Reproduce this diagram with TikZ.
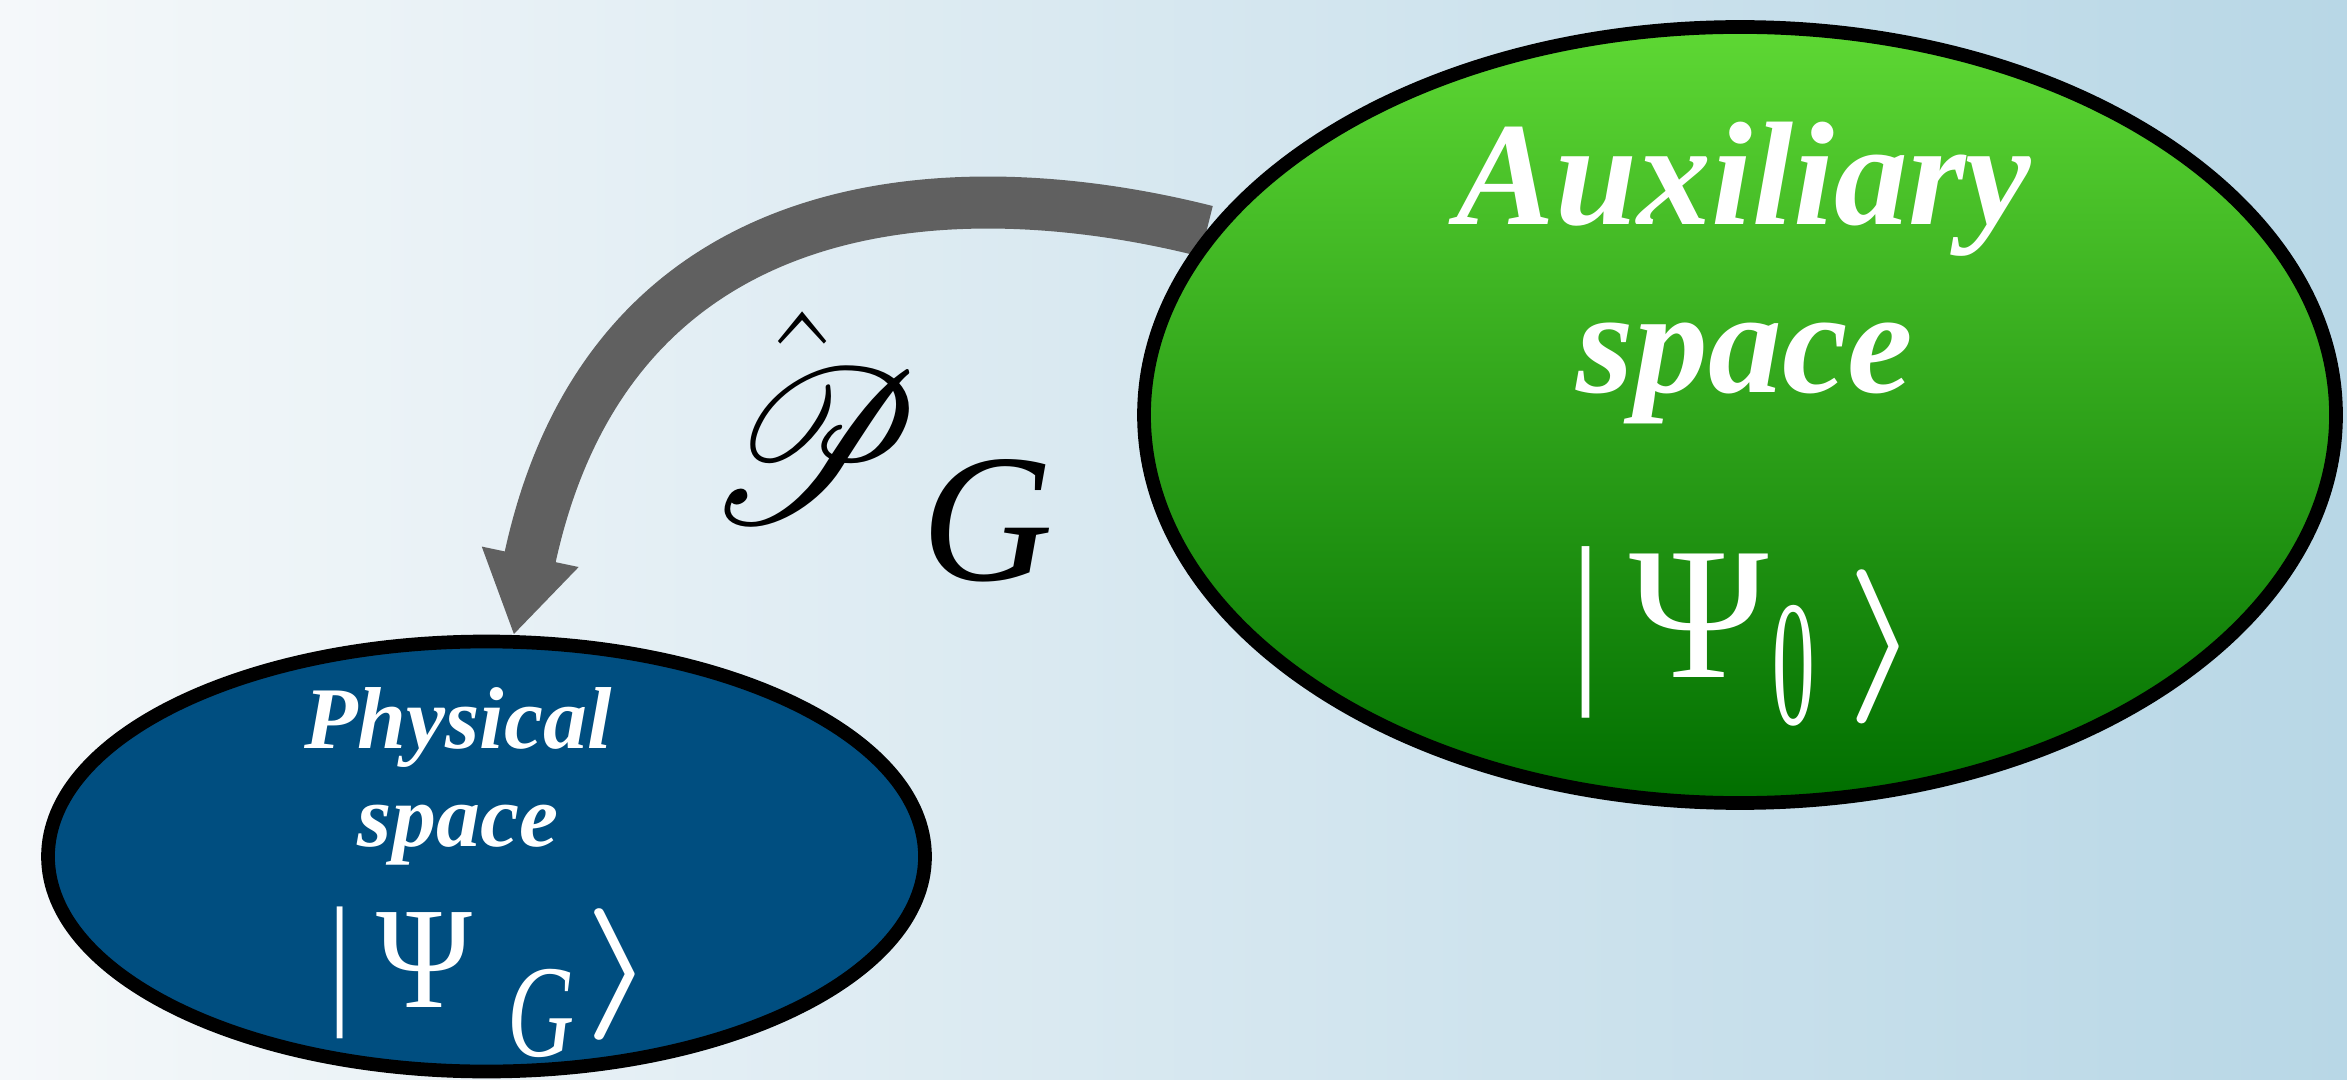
\RequirePackage{fix-cm}
\documentclass[tikz,border=0pt]{standalone}
\usepackage{fontspec}
\setmainfont{Liberation Serif}[
    ItalicFont={Liberation Serif Italic},
    BoldFont={Liberation Serif Bold},
    BoldItalicFont={Liberation Serif Bold Italic}]
\usepackage{mathrsfs}
\usetikzlibrary{shapes.geometric,arrows.meta,backgrounds}

\definecolor{bgleft}{RGB}{245,248,250}
\definecolor{bgmid}{RGB}{226,238,243}
\definecolor{bgright}{RGB}{184,215,230}
\definecolor{auxtop}{RGB}{94,216,52}
\definecolor{auxbot}{RGB}{0,110,0}
\definecolor{physfill}{RGB}{0,78,128}
\definecolor{arrowgray}{RGB}{96,96,96}

\begin{document}
\begin{tikzpicture}[
    spacebox/.style={ellipse, draw=black, line width=3.9pt, inner sep=0pt},
    title/.style={text=white, font=\bfseries\itshape, anchor=base, inner sep=0pt},
    ket/.style={text=white, anchor=base, inner sep=0pt},
    arrow/.style={line width=14.8pt, draw=arrowgray, -{Triangle[width=0.93cm, length=0.8cm]}}
]
\useasboundingbox (0,0) rectangle (23.47,10.79);

% Spaces
\node (aux) [spacebox, minimum width=11.92cm, minimum height=7.76cm, top color=auxtop, bottom color=auxbot] at (17.40,6.64) {};
\node (phys) [spacebox, minimum width=8.77cm, minimum height=4.30cm, fill=physfill] at (4.865,2.225) {};

% Texts
\node (auxname) [title] at (17.44,8.54) {\fontsize{42}{42}\selectfont Auxiliary};
\node (auxspace) [title] at (17.45,6.87) {\fontsize{42}{42}\selectfont space};
\node (auxket) [ket] at (17.45,4.02) {\scalebox{1}[1.22]{\fontsize{44}{44}\selectfont |\hspace{8pt}\scalebox{1.22}[1]{Ψ}\hspace{1pt}\raisebox{-0.25em}{\scalebox{0.55}[0.95]{0}}\hspace{9pt}\raisebox{-2pt}{\scalebox{1.3}[1]{\fontsize{36}{36}\selectfont\boldmath$\rangle$}}}};

\node (physname) [title] at (4.58,3.31) {\fontsize{25}{25}\selectfont Physical};
\node (physspace) [title] at (4.58,2.33) {\fontsize{25}{25}\selectfont space};
\node (physket) [ket] at (4.92,0.72) {\scalebox{1}[1.25]{\fontsize{33}{33}\selectfont |\hspace{7pt}\scalebox{1.12}[1]{Ψ}\hspace{10pt}\raisebox{-0.34em}{\scalebox{0.88}[1]{\fontsize{30}{30}\selectfont\textit{G}}}\hspace{3pt}\scalebox{1.5}[1]{\fontsize{30}{30}\selectfont\boldmath$\rangle$}}};

\node (proj) at (8.80,6.32) {\scalebox{2.25}[2.5]{\fontsize{24.88}{24.88}\selectfont$\hat{\mathscr{P}\mkern-2mu}\mkern2mu$}{\fontsize{52}{52}\selectfont\raisebox{-0.32em}{\textit{G}}}};

% Arrow
\begin{pgfonlayer}{background}
\shade[left color=bgleft, middle color=bgmid, right color=bgright] (0,0) rectangle (23.47,10.79);
\draw [arrow] (aux.161) .. controls (9.6,9.1) and (6.1,9.0) .. (phys.83);
\end{pgfonlayer}

\end{tikzpicture}
\end{document}
